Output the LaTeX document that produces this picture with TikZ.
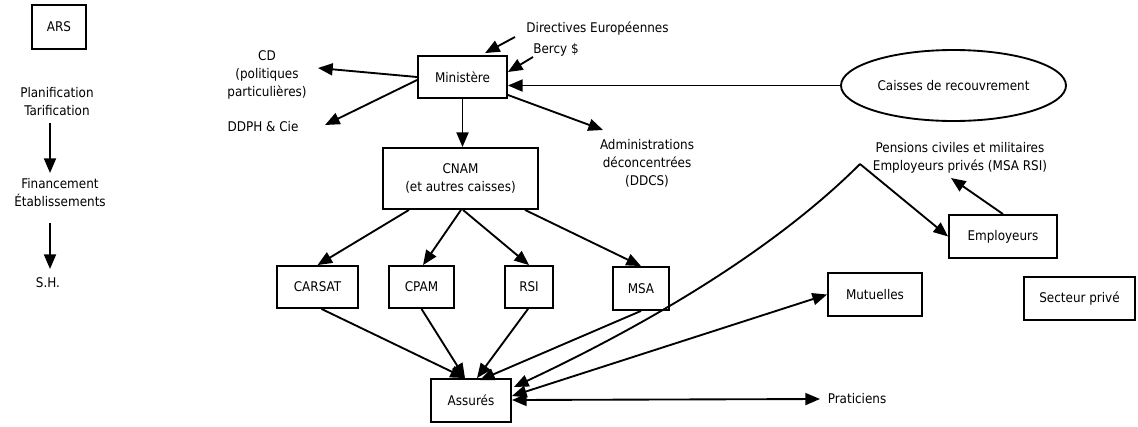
\documentclass[tikz,border=0pt]{standalone}
\usepackage{fontspec}
\setmainfont{DejaVu Sans Condensed}
\usetikzlibrary{arrows.meta,shapes.geometric}
\begin{document}
\begin{tikzpicture}[x=0.75pt,y=-0.75pt,
  every node/.style={font=\fontsize{10pt}{13.5pt}\selectfont, inner sep=0pt, align=center},
  bx/.style 2 args={draw, line width=1.4pt, minimum width=#1*0.75pt, minimum height=#2*0.75pt},
  arr/.style={line width=1.4pt, -{Triangle[length=11pt,width=9pt]}},
  darr/.style={line width=1.4pt, {Triangle[length=11pt,width=9pt]}-{Triangle[length=11pt,width=9pt]}},
  ln/.style={line width=1.4pt}]
\useasboundingbox (0,0) rectangle (1138,426);
% left column
\node[bx={54}{44}] (ars) at (59,27) {ARS};
\node (plan) at (57,102) {Planification\\Tarification};
\node (fin) at (60,193) {Financement\\Établissements};
\node (sh) at (48,283) {S.H.};
% centre
\node[bx={89}{42}] (min) at (462.5,77) {Ministère};
\node (dir) at (597.5,29) {Directives Européennes};
\node (bercy) at (556,50) {Bercy \$};
\node (cd) at (267,75) {CD\\(politiques\\particulières)};
\node (ddph) at (263,127) {DDPH \& Cie};
\node (adm) at (647,163) {Administrations\\déconcentrées\\(DDCS)};
\node[bx={155}{61}] (cnam) at (460.5,178.5) {CNAM\\(et autres caisses)};
\node[bx={81}{42}] (carsat) at (317.5,287) {CARSAT};
\node[bx={65}{42}] (cpam) at (421.5,287) {CPAM};
\node[bx={48}{42}] (rsi) at (529,287) {RSI};
\node[bx={56}{43}] (msa) at (641,288.5) {MSA};
\node[bx={80}{43}] (assures) at (471,400.5) {Assurés};
% right
\node[draw, ellipse, line width=1.4pt, minimum width=225*0.75pt, minimum height=71*0.75pt] (cr) at (953.5,85.5) {Caisses de recouvrement};
\node (pens) at (960,158) {Pensions civiles et militaires\\Employeurs privés (MSA RSI)};
\node[bx={108}{43}] (emp) at (1003,236.5) {Employeurs};
\node[bx={94}{43}] (mut) at (875,294.5) {Mutuelles};
\node[bx={111}{43}] (sp) at (1079.5,298.5) {Secteur privé};
\node (prat) at (857,399) {Praticiens};
\coordinate (apex) at (860,164);
% connectors left
\draw[arr] ([shift={(-7,21)}]plan.center) -- ([shift={(-10,-20)}]fin.center);
\draw[arr] ([shift={(-10,30)}]fin.center) -- ([shift={(2,-14)}]sh.center);
% ministere
\draw[arr] (min.west) -- ([shift={(51,-7)}]cd.center);
\draw[arr] ([shift={(0,3)}]min.west) -- ([shift={(62,-2)}]ddph.center);
\draw[arr] ([shift={(-82.5,8)}]dir.center) -- ([shift={(22.5,-2)}]min.north);
\draw[arr] ([shift={(-23,7)}]bercy.center) -- ([shift={(0,-5)}]min.east);
\draw[arr] (cr.west) -- (cr.west -| min.east);
\draw[arr] ([shift={(0,18)}]min.east) -- ([shift={(-44,-33)}]adm.center);
\draw[arr] (min.south) -- (min.south |- cnam.north);
% cnam
\draw[arr] ([shift={(-51.5,0)}]cnam.south) -- (carsat.north);
\draw[arr] ([shift={(0.5,0)}]cnam.south) -- ([shift={(1.5,0)}]cpam.north);
\draw[arr] ([shift={(2.5,0)}]cnam.south) -- (rsi.north);
\draw[arr] ([shift={(64.5,0)}]cnam.south) -- (msa.north);
% to assures
\draw[arr] ([shift={(4,0)}]carsat.south) -- ([shift={(-6,0)}]assures.north);
\draw[arr] (cpam.south) -- ([shift={(-6,0)}]assures.north);
\draw[arr] ([shift={(-1,0)}]rsi.south) -- ([shift={(6,0)}]assures.north);
\draw[arr] (msa.south) -- ([shift={(9,2)}]assures.north);
\draw[arr] (apex) .. controls +(-75.3,75.3) and +(156,-73.3) .. ([shift={(2,-13.5)}]assures.east);
\draw[arr] (apex) -- (emp.west);
\draw[arr] (emp.north) -- ([shift={(-9,20)}]pens.center);
\draw[darr] ([shift={(0,-4.5)}]assures.east) -- (mut.west);
\draw[darr] ([shift={(0,-0.5)}]assures.east) -- ([shift={(-37,0)}]prat.center);
\end{tikzpicture}
\end{document}
